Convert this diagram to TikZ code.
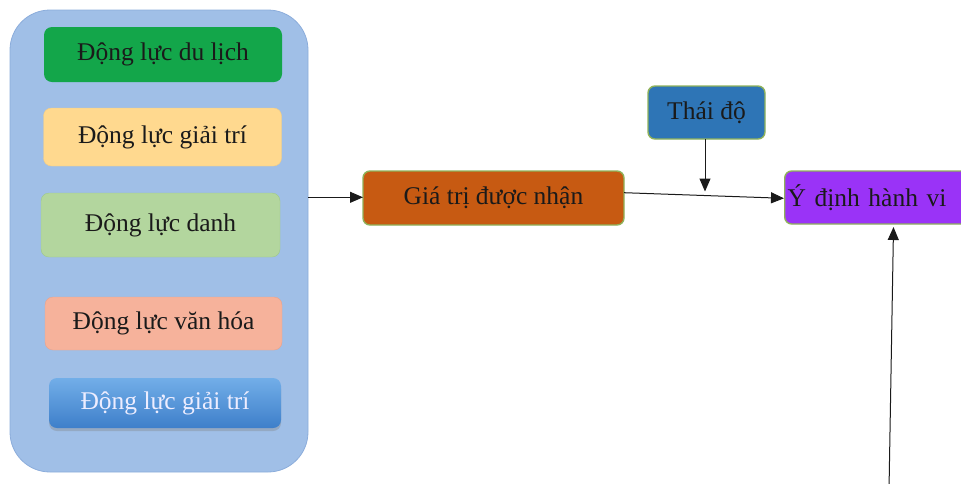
\documentclass[tikz,border=0pt]{standalone}
\usepackage{fontspec}
\setmainfont{Liberation Serif}
\usetikzlibrary{arrows.meta,shadows}

\definecolor{panelfill}{HTML}{A0BFE7}
\definecolor{paneledge}{HTML}{8CADDB}
\definecolor{boxgreen}{HTML}{13A64A}
\definecolor{boxsand}{HTML}{FFD98F}
\definecolor{boxsandedge}{HTML}{F3CD85}
\definecolor{boxsage}{HTML}{B3D69E}
\definecolor{boxsageedge}{HTML}{9FC98A}
\definecolor{boxsalmon}{HTML}{F6B29B}
\definecolor{boxsalmonedge}{HTML}{EAA38C}
\definecolor{blueTop}{HTML}{72AEE8}
\definecolor{blueBot}{HTML}{3E7FCA}
\definecolor{rust}{HTML}{C75A12}
\definecolor{steel}{HTML}{2E75B6}
\definecolor{violet}{HTML}{9A33F7}
\definecolor{olive}{HTML}{8FB25A}
\definecolor{ink}{HTML}{1A1A1A}

\tikzset{
  motive/.style={rounded corners=8pt, minimum width=238pt, inner sep=0pt,
    font=\fontsize{25.5}{30}\selectfont, text=ink},
  factor/.style={rounded corners=7pt, draw=olive, line width=1.4pt, inner sep=0pt,
    font=\fontsize{25.5}{30}\selectfont, text=ink},
  link/.style={line width=1pt, draw=ink, -{Triangle[length=13pt,width=11pt]}},
  plain/.style={line width=1pt, draw=ink}
}

\begin{document}
\begin{tikzpicture}[x=1pt,y=-1pt]
\useasboundingbox (0,0) rectangle (961,483);

% grouping panel of motivations
\node[draw=paneledge, fill=panelfill, line width=0.8pt, rounded corners=40pt,
      minimum width=298pt, minimum height=462pt] (panel) at (159,241) {};

\node[motive, fill=boxgreen, minimum height=55pt] (m1) at (163,54.5) {Động lực du lịch};
\node[motive, fill=boxsand, draw=boxsandedge, minimum height=58pt] (m2) at (162.5,137) {Động lực giải trí};
\node[motive, fill=boxsage, draw=boxsageedge, minimum height=64pt, minimum width=239pt] (m3) at (160.5,225) {Động lực danh};
\node[motive, fill=boxsalmon, draw=boxsalmonedge, minimum height=53pt, minimum width=237pt] (m4) at (163.5,323.5) {Động lực văn hóa};
\node[motive, top color=blueTop, bottom color=blueBot, minimum height=50pt, minimum width=232pt,
      text=white!93!blue, drop shadow={shadow xshift=0pt, shadow yshift=-3pt, opacity=0.35}]
      (m5) at (165,403) {Động lực giải trí};

% model factors
\node[factor, fill=rust, minimum width=261pt, minimum height=54pt] (value) at (493.5,198) {Giá trị được nhận};
\node[factor, fill=steel, minimum width=117pt, minimum height=53pt] (attitude) at (706.5,112.5) {Thái độ};
\node[factor, fill=violet, anchor=west, minimum height=53pt, text width=186pt,
      align=left, inner xsep=3pt] (intent) at (784,197.5) {Ý định hành vi};

% connectors
\coordinate (panelR) at (308,197.3);
\coordinate (valueL) at (363,197.3);
\coordinate (valueR) at (624,192.7);
\coordinate (intentL) at (784,198.3);
\coordinate (attB) at (705,139);
\coordinate (onlink) at (705,191.5);
\coordinate (bottomIn) at (889,490);
\coordinate (intentB) at (893.5,227);

\draw[link] (panelR) -- (valueL);
\draw[link] (valueR) -- (intentL);
\draw[link] (attB) -- (onlink);
\draw[link] (bottomIn) -- (intentB);
\end{tikzpicture}
\end{document}
